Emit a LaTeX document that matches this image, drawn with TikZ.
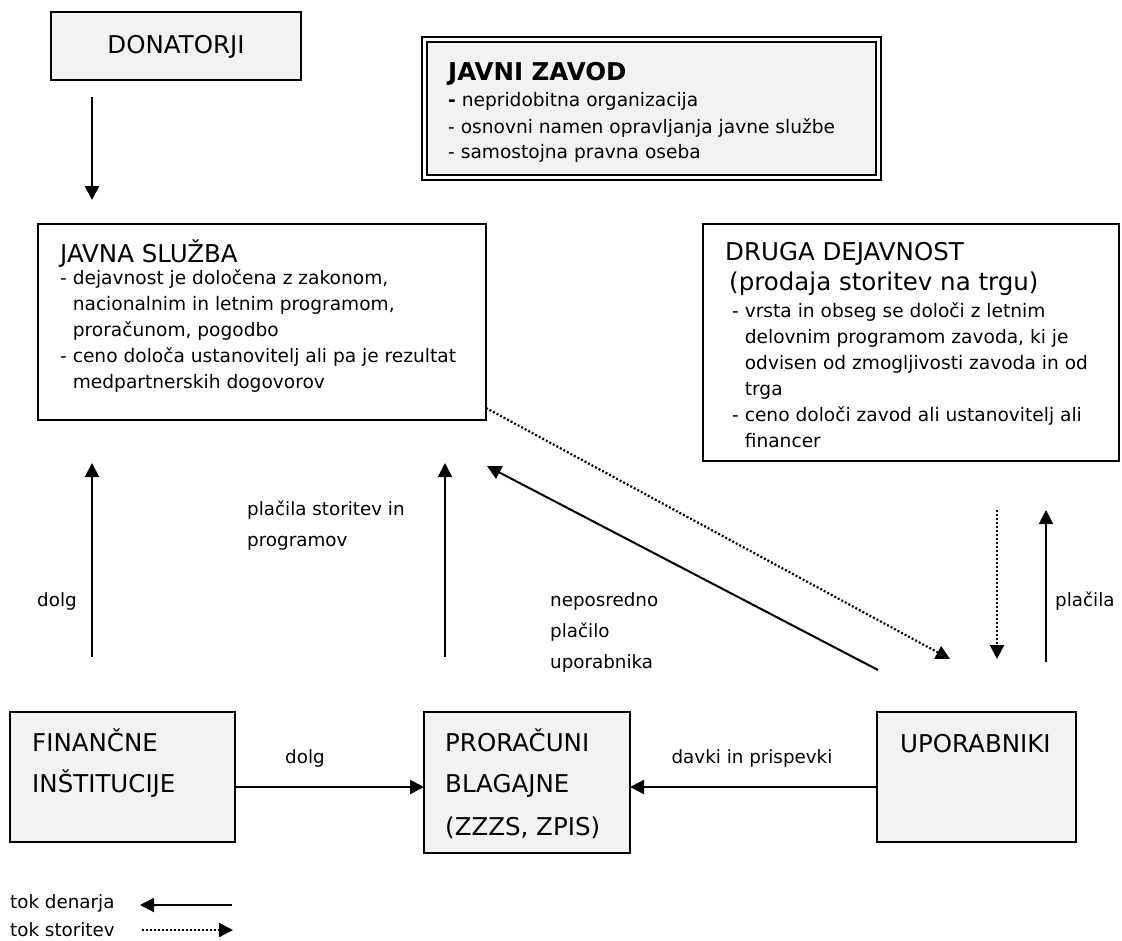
\documentclass[tikz,border=0pt]{standalone}
\usepackage{fontspec}
\setmainfont{DejaVu Sans}
\usetikzlibrary{arrows.meta}
\definecolor{boxgray}{HTML}{F2F2F2}
\begin{document}
\begin{tikzpicture}[x=1pt,y=-1pt,
  box/.style={draw, line width=2.6pt, inner sep=0pt, outer sep=0pt, anchor=north west},
  gbox/.style={box, fill=boxgray},
  captxt/.style={font=\fontsize{24.5}{28}\selectfont, inner sep=0pt, anchor=base west},
  bodytxt/.style={font=\fontsize{18.6}{22}\selectfont, inner sep=0pt, anchor=base west},
  labtxt/.style={font=\fontsize{18.3}{22}\selectfont, inner sep=0pt, anchor=base west},
  arr/.style={line width=2pt, -{Triangle[length=14pt,width=14pt]}},
  dotarr/.style={line width=2.2pt, dash pattern=on 2pt off 2pt, -{Triangle[length=14pt,width=14pt]}}
]
\useasboundingbox (0,0) rectangle (1122,940);
\fill[white] (0,0) rectangle (1122,940);

% boxes
\node[gbox, minimum width=250pt, minimum height=68pt] (don) at (51,12) {};
\node[draw, line width=1.5pt, inner sep=0pt, anchor=north west, minimum width=459pt, minimum height=143pt] (jzo) at (421,36) {};
\node[draw, fill=boxgray, line width=2.4pt, inner sep=0pt, anchor=north west, minimum width=449pt, minimum height=133pt] (jz) at (426,41) {};
\node[box, minimum width=448pt, minimum height=196pt] (js) at (38,224) {};
\node[box, minimum width=416pt, minimum height=237pt] (dd) at (703,224) {};
\node[gbox, minimum width=225pt, minimum height=130pt] (fin) at (10,712) {};
\node[gbox, minimum width=206pt, minimum height=141pt] (pro) at (424,712) {};
\node[gbox, minimum width=199pt, minimum height=130pt] (upo) at (877,712) {};

% texts
\node[captxt, anchor=base] (tdon) at (176,53) {DONATORJI};

\node[captxt, font=\fontsize{24.5}{28}\selectfont\bfseries] (tjz) at (448,80) {JAVNI ZAVOD};
\node[bodytxt] (jz1) at (448,106) {{\bfseries -} nepridobitna organizacija};
\node[bodytxt] (jz2) at (448,133) {- osnovni namen opravljanja javne službe};
\node[bodytxt] (jz3) at (448,158) {- samostojna pravna oseba};

\node[captxt] (tjs) at (60,262) {JAVNA SLUŽBA};
\node[bodytxt] (js1) at (60,284) {- dejavnost je določena z zakonom,};
\node[bodytxt] (js2) at (60,310) {\hphantom{- }nacionalnim in letnim programom,};
\node[bodytxt] (js3) at (60,336) {\hphantom{- }proračunom, pogodbo};
\node[bodytxt] (js4) at (60,362) {- ceno določa ustanovitelj ali pa je rezultat};
\node[bodytxt] (js5) at (60,388) {\hphantom{- }medpartnerskih dogovorov};

\node[captxt] (tdd) at (725,260) {DRUGA DEJAVNOST};
\node[captxt] (tdd2) at (729,290) {(prodaja storitev na trgu)};
\node[bodytxt] (dd1) at (732,317) {- vrsta in obseg se določi z letnim};
\node[bodytxt] (dd2) at (732,343) {\hphantom{- }delovnim programom zavoda, ki je};
\node[bodytxt] (dd3) at (732,369) {\hphantom{- }odvisen od zmogljivosti zavoda in od};
\node[bodytxt] (dd4) at (732,395) {\hphantom{- }trga};
\node[bodytxt] (dd5) at (732,421) {- ceno določi zavod ali ustanovitelj ali};
\node[bodytxt] (dd6) at (732,447) {\hphantom{- }financer};

\node[captxt] (tfin1) at (32,751) {FINANČNE};
\node[captxt] (tfin2) at (32,792) {INŠTITUCIJE};
\node[captxt] (tpro1) at (445,751) {PRORAČUNI};
\node[captxt] (tpro2) at (445,792) {BLAGAJNE};
\node[captxt] (tpro3) at (445,835) {(ZZZS, ZPIS)};
\node[captxt] (tupo) at (900,752) {UPORABNIKI};

% labels
\node[labtxt] (ldolg) at (37,606) {dolg};
\node[labtxt] (lpl1) at (247,515) {plačila storitev in};
\node[labtxt] (lpl2) at (247,546) {programov};
\node[labtxt] (lnep1) at (550,606) {neposredno};
\node[labtxt] (lnep2) at (550,637) {plačilo};
\node[labtxt] (lnep3) at (550,668) {uporabnika};
\node[labtxt] (lplac) at (1055,606) {plačila};
\node[labtxt, anchor=base] (ldolg2) at (305,763) {dolg};
\node[labtxt, anchor=base] (ldav) at (752,763) {davki in prispevki};

% legend
\node[labtxt] (leg1) at (10,908) {tok denarja};
\node[labtxt] (leg2) at (10,936) {tok storitev};

% coordinates
\coordinate (d0) at (92,97);   \coordinate (d1) at (92,200);
\coordinate (a1s) at (92,657); \coordinate (a1e) at (92,463);
\coordinate (a2s) at (445,657); \coordinate (a2e) at (445,463);
\coordinate (dgs) at (878,670); \coordinate (dge) at (487,466);
\coordinate (dts) at (486,408); \coordinate (dte) at (950,659);
\coordinate (vds) at (997,510); \coordinate (vde) at (997,659);
\coordinate (vus) at (1046,662); \coordinate (vue) at (1046,510);
\coordinate (hy) at (0,787);
\coordinate (l1s) at (232,905); \coordinate (l1e) at (140,905);
\coordinate (l2s) at (142,930); \coordinate (l2e) at (233,930);

% connectors
\draw[arr] (d0) -- (d1);
\draw[arr] (a1s) -- (a1e);
\draw[arr] (a2s) -- (a2e);
\draw[arr] (dgs) -- (dge);
\draw[dotarr] (dts) -- (dte);
\draw[dotarr] (vds) -- (vde);
\draw[arr] (vus) -- (vue);
\draw[arr] (fin.east |- hy) -- (pro.west |- hy);
\draw[arr] (upo.west |- hy) -- (pro.east |- hy);
\draw[arr] (l1s) -- (l1e);
\draw[dotarr] (l2s) -- (l2e);
\end{tikzpicture}
\end{document}
